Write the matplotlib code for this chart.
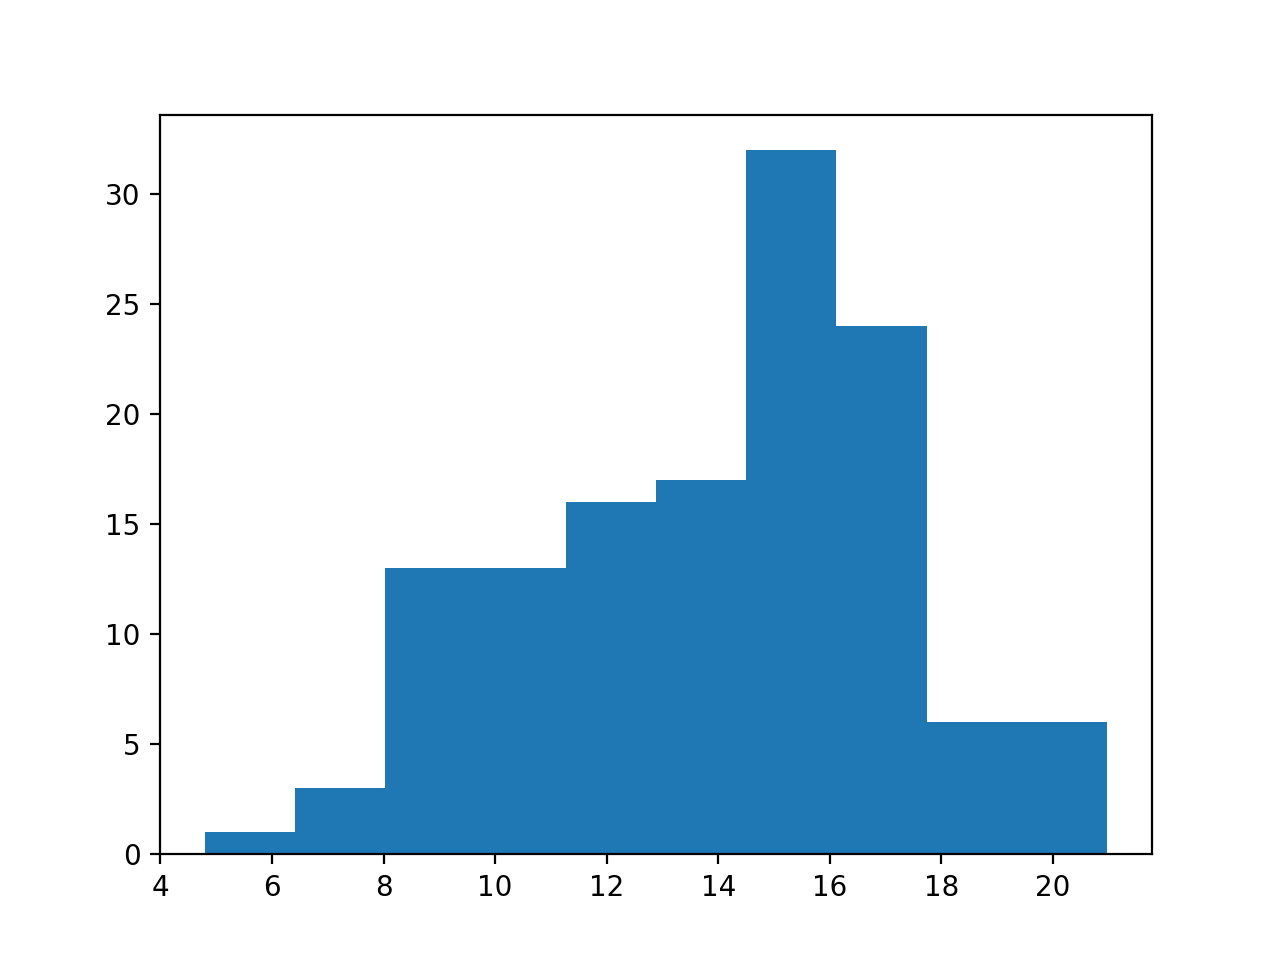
import numpy as np
import matplotlib.pyplot as plt

bin_edges = [4.80, 6.42, 8.03, 9.65, 11.27, 12.89, 14.50, 16.12, 17.74, 19.35, 20.97]
counts = [1, 3, 13, 13, 16, 17, 32, 24, 6, 6]

fig = plt.figure(figsize=(6.4, 4.8), dpi=200)
ax = fig.add_subplot(111)

ax.hist(bin_edges[:-1], bins=bin_edges, weights=counts)

fig.savefig('out.png')
